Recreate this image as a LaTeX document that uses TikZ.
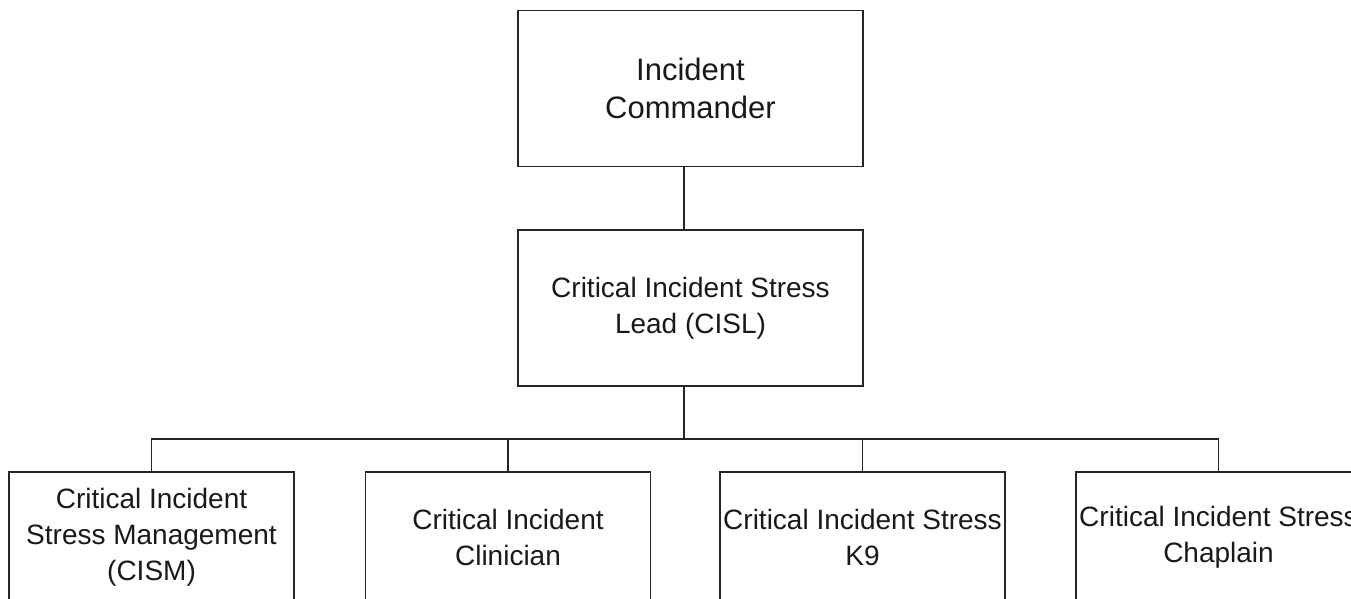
\documentclass[tikz,border=0pt]{standalone}
\usepackage{fontspec}
\setmainfont{Liberation Sans}
\begin{document}
\begin{tikzpicture}[
        x = 1pt,
        y = -1pt,
        line width = 1.2pt,
        black!85,
        box/.style = {draw, align = center, inner sep = 0pt, text = black!90,
            font = \fontsize{28}{36}\selectfont},
        bigbox/.style = {box, minimum width = 345pt, minimum height = 156pt},
        smallbox/.style = {box, minimum width = 285pt, minimum height = 130pt}
    ]
        \useasboundingbox (0,0) rectangle (1351,598);
        \clip (0,0) rectangle (1351,598);
        % top of the chart
        \node[bigbox, font = \fontsize{31}{38}\selectfont] (cmd) at (690.5,88.5) {Incident\\Commander};
        \node[bigbox] (cisl) at (690.5,308) {Critical Incident Stress\\Lead (CISL)};
        % bottom row
        \node[smallbox] (cism) at (151.5,537) {Critical Incident\\Stress Management\\(CISM)};
        \node[smallbox] (clin) at (508,537) {Critical Incident\\Clinician};
        \node[smallbox] (k9) at (862.5,537) {Critical Incident Stress\\K9};
        \node[smallbox] (chap) at (1218.5,537) {Critical Incident Stress\\Chaplain};
        \coordinate (bus) at (684,439);
        \draw ([xshift=-6.5pt]cmd.south) -- ([xshift=-6.5pt]cisl.north);
        \draw ([xshift=-6.5pt]cisl.south) -- (bus);
        \draw (cism.north) |- (bus) -| (chap.north);
        \draw (clin.north) -- (clin.north |- bus);
        \draw (k9.north) -- (k9.north |- bus);
\end{tikzpicture}
\end{document}
